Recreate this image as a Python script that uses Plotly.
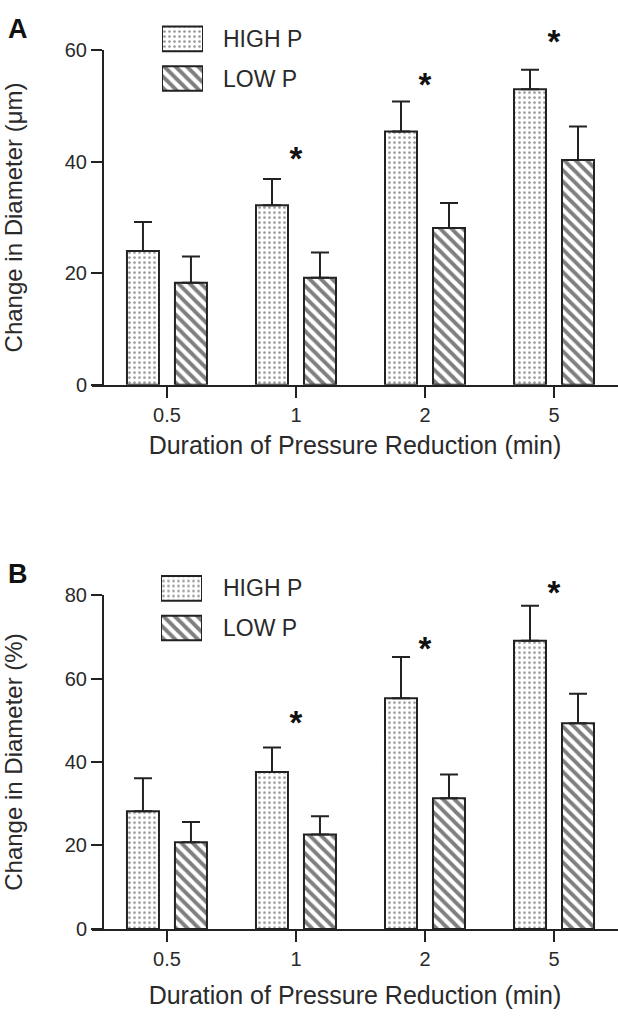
import plotly.graph_objects as go

W, H = 618, 1026

# ---------------- data ----------------
durations = ["0.5", "1", "2", "5"]
series_names = ["HIGH P", "LOW P"]

# Panel A: change in diameter (um)
high_a = [24.0, 32.2, 45.4, 53.0]
high_a_err = [5.2, 4.7, 5.4, 3.5]
low_a = [18.3, 19.2, 28.1, 40.3]
low_a_err = [4.7, 4.5, 4.5, 6.0]

# Panel B: change in diameter (%)
high_b = [28.2, 37.6, 55.3, 69.1]
high_b_err = [7.9, 5.9, 9.9, 8.4]
low_b = [20.8, 22.6, 31.3, 49.3]
low_b_err = [4.8, 4.4, 5.7, 7.1]

# significance markers (category, y level of the asterisk text)
sig_cats = ["1", "2", "5"]
sig_y_a = [40.0, 53.3, 61.0]
sig_y_b = [48.7, 66.5, 79.8]

yticks_a = [0, 20, 40, 60]
yticks_b = [0, 20, 40, 60, 80]
yrange_a = [0, 60]
yrange_b = [0, 80]

# ---------------- style ----------------
FONT = "Liberation Sans, Arial, Helvetica, sans-serif"
INK = "#222222"
TXT = "#2a2a2a"
HIGH_PAT = dict(shape=".", bgcolor="white", fgcolor="#2b2b2b", size=5, solidity=0.22)
LOW_PAT = dict(shape="\\", bgcolor="white", fgcolor="#000000", size=8, solidity=0.48)

# panel geometry in pixels (top of y axis, bottom = x axis line)
A_TOP, A_BOT = 40, 382
B_TOP, B_BOT = 597, 938
A_OVER_TOP, B_OVER_TOP = 0, 540   # top of invisible overlay axes carrying the asterisks


def px(x):
    return x / W


def py(y):
    return 1 - y / H


def overlay_range(rng, top, bot, over_top):
    # same data->pixel scale as the main axis, just taller
    return [rng[0], rng[0] + (rng[1] - rng[0]) * (bot - over_top) / (bot - top)]


fig = go.Figure()


def add_panel(xa, ya, ya_sig, high, high_err, low, low_err, sig_y):
    for name, vals, err, pat in [
        (series_names[0], high, high_err, HIGH_PAT),
        (series_names[1], low, low_err, LOW_PAT),
    ]:
        fig.add_trace(go.Bar(
            x=durations, y=vals, name=name, xaxis=xa, yaxis=ya,
            marker=dict(pattern=pat, color="white", line=dict(color=INK, width=2)),
            error_y=dict(type="data", array=err, symmetric=False,
                         arrayminus=[0] * len(err), thickness=2, width=9, color=INK),
            showlegend=False,
        ))
    # significance asterisks
    fig.add_trace(go.Scatter(
        x=sig_cats, y=sig_y, xaxis=xa, yaxis=ya_sig, mode="text", text=["*"] * len(sig_cats),
        textposition="middle center", cliponaxis=False, showlegend=False, hoverinfo="skip",
        textfont=dict(family=FONT, size=33, color="#111111", weight="bold"),
    ))


add_panel("x", "y", "y5", high_a, high_a_err, low_a, low_a_err, sig_y_a)
add_panel("x2", "y2", "y6", high_b, high_b_err, low_b, low_b_err, sig_y_b)

# custom legends (swatches drawn as bars on hidden axes)
for xa, ya in [("x3", "y3"), ("x4", "y4")]:
    fig.add_trace(go.Bar(
        y=series_names, x=[1, 1], base=0, orientation="h", xaxis=xa, yaxis=ya,
        width=0.62, cliponaxis=False, showlegend=False, hoverinfo="skip",
        marker=dict(color="white",
                    pattern=dict(shape=[HIGH_PAT["shape"], LOW_PAT["shape"]],
                                 bgcolor="white",
                                 fgcolor=[HIGH_PAT["fgcolor"], LOW_PAT["fgcolor"]],
                                 size=[HIGH_PAT["size"], LOW_PAT["size"]],
                                 solidity=[HIGH_PAT["solidity"], LOW_PAT["solidity"]]),
                    line=dict(color=INK, width=2)),
    ))

x_range = [-0.581, 3.496]


def xaxis_style(domain_anchor, standoff):
    return dict(
        type="category", range=x_range, domain=[px(92), 1.0], anchor=domain_anchor,
        showline=True, linewidth=2, linecolor=INK, ticks="outside", ticklen=11,
        tickwidth=2, tickcolor=INK, showgrid=False, zeroline=False,
        tickfont=dict(family=FONT, size=20, color=TXT),
        title=dict(text="Duration of Pressure Reduction (min)", standoff=standoff,
                   font=dict(family=FONT, size=25, color=TXT)),
    )


def yaxis_style(rng, tickvals, top, bottom, title, standoff):
    return dict(
        range=rng, tickvals=tickvals, domain=[py(bottom), py(top)], anchor="free",
        position=px(103), showline=True, linewidth=2, linecolor=INK, ticks="outside",
        ticklen=11, tickwidth=2, tickcolor=INK, showgrid=False, zeroline=False,
        tickfont=dict(family=FONT, size=20, color=TXT),
        title=dict(text=title, standoff=standoff, font=dict(family=FONT, size=24, color=TXT)),
    )


hidden = dict(visible=False, showgrid=False, zeroline=False)

fig.update_layout(
    width=W, height=H, margin=dict(l=0, r=0, t=0, b=0),
    paper_bgcolor="white", plot_bgcolor="rgba(0,0,0,0)",
    barmode="group", bargap=0.256, bargroupgap=0.333,
    showlegend=False,
    xaxis=xaxis_style("y", 12),
    yaxis=yaxis_style(yrange_a, yticks_a, A_TOP, A_BOT, "Change in Diameter (μm)", 38),
    xaxis2=xaxis_style("y2", 18),
    yaxis2=yaxis_style(yrange_b, yticks_b, B_TOP, B_BOT, "Change in Diameter (%)", 38),
    xaxis3=dict(domain=[px(162), px(203)], range=[0, 1], anchor="y3", **hidden),
    yaxis3=dict(domain=[py(89.25), py(8.25)], range=[1.5, -0.5], anchor="x3",
                type="category", **hidden),
    xaxis4=dict(domain=[px(161), px(202)], range=[0, 1], anchor="y4", **hidden),
    yaxis4=dict(domain=[py(650.75), py(569.75)], range=[1.5, -0.5], anchor="x4",
                type="category", **hidden),
    yaxis5=dict(domain=[py(A_BOT), py(A_OVER_TOP)], anchor="x",
                range=overlay_range(yrange_a, A_TOP, A_BOT, A_OVER_TOP), **hidden),
    yaxis6=dict(domain=[py(B_BOT), py(B_OVER_TOP)], anchor="x2",
                range=overlay_range(yrange_b, B_TOP, B_BOT, B_OVER_TOP), **hidden),
)

ann = []
# legend texts
for yc_list in ([28.5, 69], [590, 630.5]):
    for name, yc in zip(series_names, yc_list):
        ann.append(dict(x=px(221), y=py(yc), xref="paper", yref="paper", text=name,
                        xanchor="left", yanchor="middle", showarrow=False,
                        font=dict(family=FONT, size=23, color=TXT)))
# panel letters
for letter, yc in [("A", 18), ("B", 575)]:
    ann.append(dict(x=px(6), y=py(yc), xref="paper", yref="paper", text=f"<b>{letter}</b>",
                    xanchor="left", yanchor="middle", showarrow=False,
                    font=dict(family=FONT, size=27, color="#111111")))
fig.update_layout(annotations=ann)

fig.write_html("out.html", config={"displayModeBar": False},
               post_script="document.body.style.margin='0';document.body.style.padding='0';")
